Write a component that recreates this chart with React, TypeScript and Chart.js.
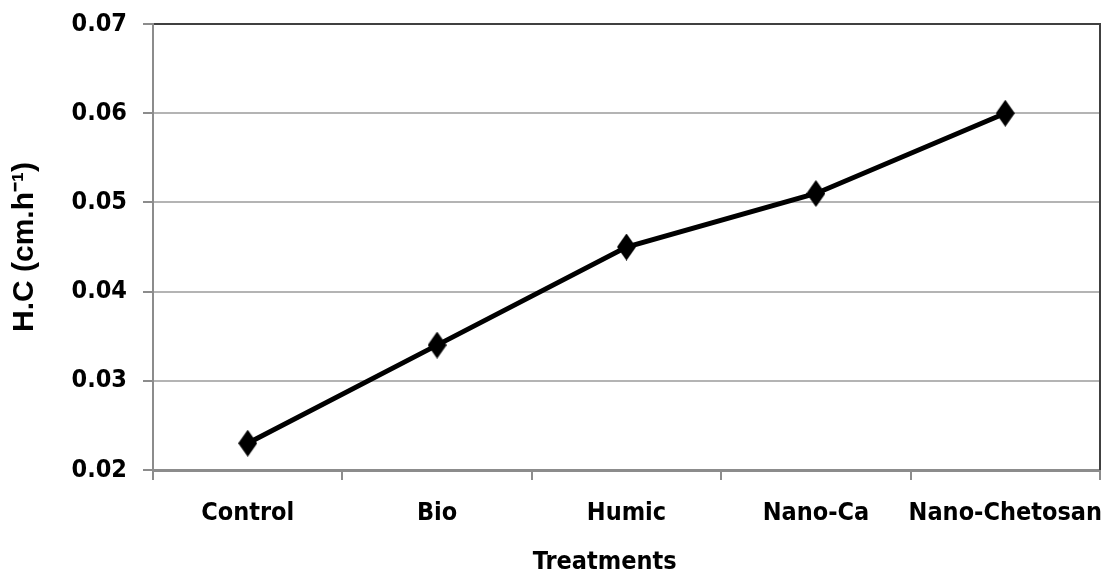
import React, { useEffect, useRef } from "react";
import { Chart, registerables } from "chart.js";

Chart.register(...registerables);

const categories = ["Control", "Bio", "Humic", "Nano-Ca", "Nano-Chetosan"];
const hcValues = [0.023, 0.034, 0.045, 0.051, 0.06];
const yMin = 0.02;
const yMax = 0.07;
const yStep = 0.01;
const yTitle = "H.C (cm.h\u207B\u00B9)";
const xTitle = "Treatments";

const condFamily = "'DejaVu Sans Condensed', 'Liberation Sans Narrow', sans-serif";

function makeDiamond(w: number, h: number): HTMLCanvasElement {
  const c = document.createElement("canvas");
  c.width = w;
  c.height = h;
  const g = c.getContext("2d")!;
  g.fillStyle = "#000";
  g.beginPath();
  g.moveTo(w / 2, 0);
  g.lineTo(w, h / 2);
  g.lineTo(w / 2, h);
  g.lineTo(0, h / 2);
  g.closePath();
  g.fill();
  return c;
}

const framePlugin = {
  id: "frame",
  afterDatasetsDraw(chart: any) {
    const { ctx, chartArea } = chart;
    ctx.save();
    ctx.strokeStyle = "#404040";
    ctx.lineWidth = 2;
    ctx.beginPath();
    ctx.moveTo(chartArea.right, chartArea.top - 1);
    ctx.lineTo(chartArea.right, chartArea.bottom);
    ctx.stroke();
    // x-axis title
    ctx.fillStyle = "#000";
    ctx.font = `bold 25px ${condFamily}`;
    ctx.textAlign = "center";
    ctx.textBaseline = "middle";
    const cx = chartArea.left + chartArea.width * 0.477;
    ctx.fillText(xTitle, cx, 562);
    ctx.restore();
  },
};

export default function App() {
  const ref = useRef<HTMLCanvasElement | null>(null);

  useEffect(() => {
    if (!ref.current) return;
    const diamond = makeDiamond(19, 27);
    const tickFont = { family: condFamily, size: 25, weight: "bold" as const };
    const chart = new Chart(ref.current, {
      type: "line",
      data: {
        labels: categories,
        datasets: [
          {
            data: hcValues,
            borderColor: "#000",
            backgroundColor: "#000",
            borderWidth: 5,
            pointStyle: diamond as any,
            pointRadius: 10,
            tension: 0,
          },
        ],
      },
      plugins: [framePlugin],
      options: {
        responsive: false,
        animation: false,
        devicePixelRatio: 1,
        layout: { autoPadding: false, padding: { left: 0, right: 6, top: 24, bottom: 0 } },
        plugins: { legend: { display: false }, tooltip: { enabled: false } },
        scales: {
          x: {
            type: "category",
            offset: true,
            afterFit(scale: any) {
              scale.height = 108;
              scale.paddingLeft = 0;
              scale.paddingRight = 0;
            },
            grid: {
              offset: true,
              drawOnChartArea: false,
              drawTicks: true,
              tickLength: 10,
              color: "#8c8c8c",
              lineWidth: 2,
            },
            border: { display: true, color: "#8c8c8c", width: 3 },
            ticks: { color: "#000", font: tickFont, padding: 18, maxRotation: 0, autoSkip: false },
            title: { display: false },
          },
          y: {
            min: yMin,
            max: yMax,
            afterFit(scale: any) {
              scale.width = 153;
              scale.paddingTop = 0;
              scale.paddingBottom = 0;
            },
            ticks: {
              stepSize: yStep,
              color: "#000",
              font: tickFont,
              padding: 16,
              callback: (v: any) => Number(v).toFixed(2),
            },
            grid: {
              color: (c: any) => (c.tick && Math.abs(c.tick.value - yMax) < 1e-9 ? "#404040" : "#b4b4b4"),
              lineWidth: 2,
              tickLength: 10,
              tickColor: "#8c8c8c",
            },
            border: { display: true, color: "#8c8c8c", width: 2 },
            title: {
              display: true,
              text: yTitle,
              color: "#000",
              font: { family: "'Liberation Sans', Arial, sans-serif", size: 30, weight: "bold", lineHeight: 1 },
              padding: { top: 10, bottom: 0 },
            },
          },
        },
      },
    });
    return () => chart.destroy();
  }, []);

  return (
    <div style={{ position: "fixed", left: 0, top: 0, width: 1106, height: 578, background: "#fff" }}>
      <canvas ref={ref} width={1106} height={578} style={{ display: "block" }} />
    </div>
  );
}
